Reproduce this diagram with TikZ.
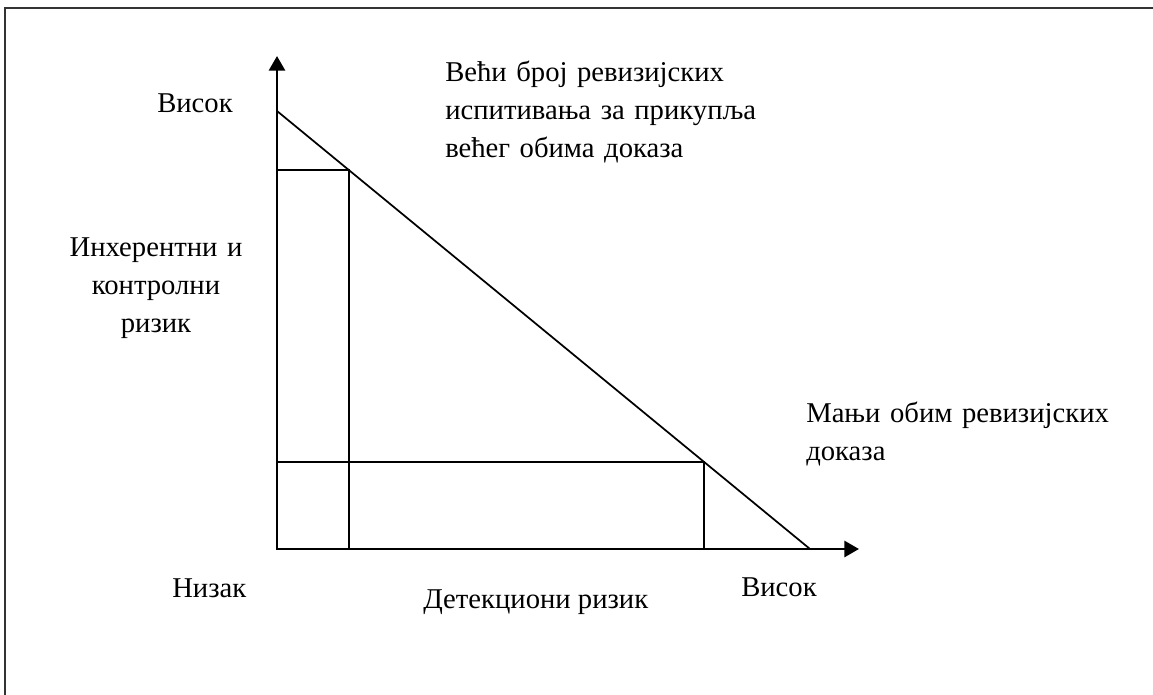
\documentclass[tikz,border=0pt]{standalone}
\usepackage{fontspec}
\setmainfont{Liberation Serif}
\usetikzlibrary{arrows.meta, calc}

\begin{document}
\begin{tikzpicture}[x=0.75pt,y=-0.75pt]
\tikzset{
  ax/.style={{Triangle[length=11pt,width=12pt]}-{Triangle[length=11pt,width=12pt]},line width=2.2pt,draw=black,line join=miter},
  ln/.style={line width=1.3pt,draw=black},
  fr/.style={line width=1pt,draw=black!80},
  lb/.style={inner sep=0pt,font=\fontsize{21.5}{28.5}\selectfont,anchor=base west}
}
\useasboundingbox (0,0) rectangle (1153,695);
% frame (cut off at right and bottom)
\coordinate (frb) at (5,695);
\coordinate (frtl) at (5,8);
\coordinate (frtr) at (1153,8);
\draw[fr] (frb) -- (frtl) -- (frtr);
% axes and risk line
\coordinate (o) at (277,549);
\coordinate (ytop) at (277,56);
\coordinate (xend) at (859,549);
\coordinate (dhi) at (277,111);
\coordinate (dlo) at (810,549);
\coordinate (p1) at ($(dhi)!0.135!(dlo)$);
\coordinate (p2) at ($(dhi)!0.801!(dlo)$);
\draw[ax] (ytop) -- (o) -- (xend);
\draw[ln] (dhi) -- (dlo);
\draw[ln] (p1 -| o) -- (p1) -- (p1 |- o);
\draw[ln] (p2 -| o) -- (p2) -- (p2 |- o);
% labels
\node[lb] (yhigh) at (157,113) {Висок};
\node[lb,anchor=base,text width=150pt,align=center] (ylab) at (156,257) {Инхерентни и\\ контролни\\ ризик};
\node[lb,text width=300pt,align=left] (more) at (445,82) {Већи број ревизијских\\ испитивања за прикупља\\ већег обима доказа};
\node[lb,text width=240pt,align=left] (less) at (806,422) {\makebox[237pt][s]{Мањи обим ревизијских}\\ доказа};
\node[lb] (xlow) at (172,597) {Низак};
\node[lb] (xlab) at (423,608) {Детекциони ризик};
\node[lb] (xhigh) at (741,596) {Висок};
\end{tikzpicture}
\end{document}
